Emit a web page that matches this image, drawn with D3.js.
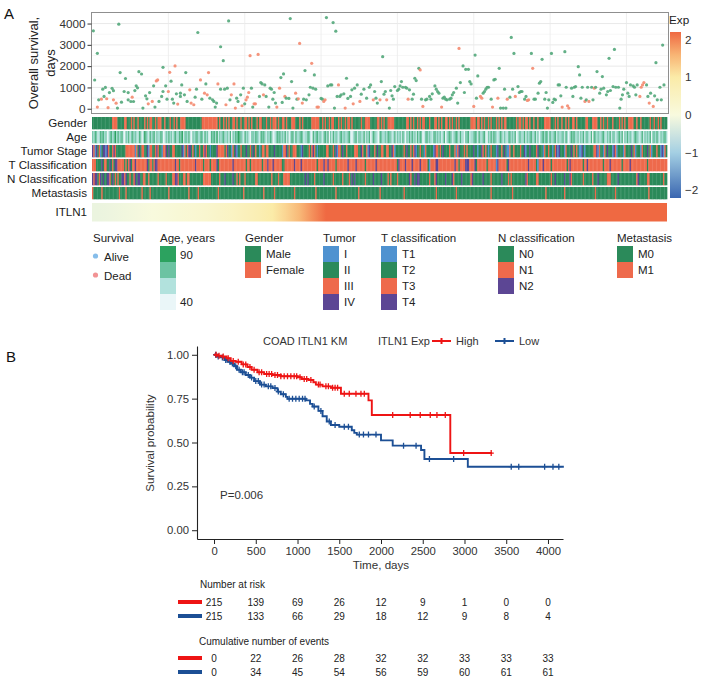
<!DOCTYPE html>
<html><head><meta charset="utf-8">
<script src="https://cdn.jsdelivr.net/npm/d3@7/dist/d3.min.js"></script>
<style>
html,body{margin:0;padding:0;background:#fff;}
svg text{font-family:"Liberation Sans",Arial,Helvetica,sans-serif;}
</style></head><body>
<svg id="chart" width="706" height="681"></svg>
<script>
// ================= DATA =================
// Panel A scatter: patient rank (sorted by ITLN1), overall survival days, status (A alive / D dead)
const osRank = [1,2,4,4,5,7,8,9,10,11,12,13,15,16,16,18,19,20,21,22,24,25,27,27,29,30,31,32,33,34,35,37,38,40,41,42,43,45,46,47,
48,49,50,52,53,53,55,56,57,58,59,60,61,62,63,64,66,66,67,69,70,71,73,74,76,77,78,79,81,82,84,85,86,87,88,90,91,92,93,94,
96,96,98,99,100,101,102,103,104,106,107,108,109,111,112,113,114,115,116,117,118,119,120,121,122,124,125,126,127,128,
129,130,132,133,134,135,136,137,138,140,141,142,143,144,145,147,148,149,150,152,153,154,155,157,158,159,160,162,163,164,
165,166,167,168,169,171,172,173,174,175,176,178,179,180,181,182,183,184,185,186,188,189,190,191,193,194,195,196,198,200,
201,203,205,207,208,210,211,212,213,215,216,217,218,219,220,222,223,224,225,226,228,229,230,231,232,234,235,236,237,239,
240,241,242,244,245,246,247,249,250,252,253,254,256,257,258,259,261,262,263,264,265,267,268,269,270,272,273,274,275,277,
278,279,281,282,283,285,286,287,288,290,291,292,293,294,295,296,298,299,300,301,303,304,305,307,308,309,310,312,313,314,
315,316,318,319,320,321,323,324,325,326,328,329,330,331,333,334,335,336,338,339,340,341,343,344,345,346,348,349,350,351,
353,354,355,356,358,359,360,361,363,364,365,366,368,369,370,371,373,374,375,376,377,379,380,381,382,384,385,386,387,389,
390,391,393,394,395,396,397,399,400,401,402,404,405,406,407,409,410,411,412,414,415,416,417,419,420,421,422,424,425,426,427];
const osDays = [3660,1350,80,2600,420,450,920,580,1000,470,50,760,960,420,850,260,30,3970,1700,310,
810,1420,760,420,340,545,340,855,1075,980,1740,1630,30,607,467,233,760,342,1075,78,
1307,1354,342,576,810,1945,1075,451,810,1712,1292,451,265,2008,700,218,731,576,1120,653,
1697,342,887,265,187,545,918,3580,1354,451,731,1167,653,1697,498,420,342,78,265,1167,
918,2910,2257,918,187,965,4124,420,653,1167,30,498,342,653,140,965,233,420,545,763,
2490,965,78,233,233,2552,576,1230,1167,653,1120,576,78,965,918,451,763,265,78,965,
1463,296,1634,576,498,482,4233,1276,31,731,451,467,3066,265,451,1790,420,653,1010,2132,
965,1588,918,78,78,482,451,342,420,4280,1073,1120,1120,4047,31,3642,576,1120,576,653,
700,31,1431,482,576,887,233,965,1120,342,
685,918,498,1010,1120,420,810,498,265,420,1276,2443,685,810,420,31,856,607,451,1042,
856,918,1073,1276,1010,1010,965,451,887,451,685,1431,1323,1899,1821,451,109,420,451,576,
451,700,1073,918,810,731,78,498,545,451,420,451,498,653,763,965,265,2833,1230,2008,
763,1852,1852,1276,1167,109,2521,498,1541,576,498,731,810,918,1010,1010,451,78,1354,1385,
498,1899,31,31,918,31,451,545,3346,918,2599,576,1042,763,810,810,451,576,389,420,
2599,1899,451,451,731,1198,1276,2319,451,763,31,420,2599,296,451,420,1120,1120,607,78,
2677,1010,140,31,965,576,1010,1042,1977,1588,498,1010,342,420,1010,342,1010,420,965,1010,
1743,731,918,1510,965,653,810,2366,856,1042,2786,1010,1010,31,451,653,918,1230,731,576,
1120,1073,1010,653,1120,576,1010,1120,1230,1120,576,265,731,109,607,2163,420,1010,420,2988,1120];
const osStatus = ("AADAADAAAD DAADADAAAA AAAAADAAAA AAAAADADAA DDAAAAAADD AAADADAAAA AADDDAAADA DADDAAAAAD AAAADAAADD " +
  "DAAADAADDD DAADDDAAAD AAAAAAAADD AAADAAAAAD ADDDAAAAAD AAADDAADDA AAAAAAADAA ADAAAADAAD " +
  "AAAAADAAAD AAAADAAAAA AAAAAAADAA AAAADADAAA AAAAAADAAA AAAAAAADAA AAAAADAAAD DAAAAAADAA DAAAAADAAA " +
  "ADAAAAAADD ADAAAAAAAA AAAAAAAAAD AADDAAAAAA AADAADAADA AAAAAAAAAA AAAAAAAAAA AAAAADDDDA ADADAAAAAA A").split(" ").join("");
const dayTicks = [0,1000,2000,3000,4000];
const dayMinor = [500,1500,2500,3500];
const rankGrid = [57,114,171,228,285,342,399];
const nPatients = 430;

// Clinical annotation tracks (one character per patient, sorted by ITLN1)
const genderSeq = ("MMMMMMMMMM MMMMMFFFFM MMMMFFMMMF MFMMFMMMMF MFMFFMMFMF FFMMFMMMFM MFMFMMFFFF MMMMMMMMMM MMFFFFFFFF FFFFMFMMFM " +
  "FMFMMFFMFM MFMMFFMFMF MMMFMFFMMM FMMFMFFFMF MMFFMFMMMF FFMMMFMFMM MMMMFFFFFF MMFMFMMFMF FMMMFMFMMF MFFMFMMMMM " +
  "MFMMFFFFMM MMMFFMFMFM MFFFFFMMMM MMMMMFFMFM FMMFMFMFFM MMFMMMFFMF MFMMFFMFMF MMFMFMMMMM MMMFFFFMFF MFMFMMFMFM " +
  "MMFMFMFMFF MMMMMMMFMF FMFMFFMFMM FMMFMMMMFF FFFMMMFMFM MFMMFMFMMF FMFMMMMMMF FMMMFFFFMM FMFMMFMMMF MMMMFMFMFM " +
  "MFFFFMMFMM FMMMMMMFMM FMMFMFMMMM").split(" ").join("");
const ageDecade = ("7687568786 7457867968 6785476857 8676587469 7658678576 6874576867 5786687957 7685476786 6875867458 7869576786 " +
  "6758476879 8765867547 7687658786 5768745687 8676857468 7586678756 6875486786 7657868475 8676578676 6785467857 " +
  "7668576846 8765487667 6877568576 7586476868 6758687457 8676578676 7568467875 6787586647 7856678758 6678547686 " +
  "8765687576 5786768457 7668576786 6857467868 7586678576 6775864687 8667576857 7658487676 6786576857 7567868476 " +
  "8676578765 6857676847 7686576786").split(" ").join("");
const stageSeq = ("4314231244 1432234322 2222233333 3313242332 2413322343 2213342422 3322222413 2344232122 3223432212 2224333332 " +
  "3422132412 2322242232 4232212332 3322224222 2213342322 3332221422 2232343212 2222233222 3241332422 3222223332 " +
  "2432231422 2324223322 3322431222 2223242232 3412232213 2222214332 3242222322 2313422232 3222242212 2432321232 " +
  "2214223242 1132232222 3224122422 2234222132 2322123414 2221322242 3232114212 2222233413 2213242221 4312222132 " +
  "2224231222 1322242312 2232214132").split(" ").join("");
const tSeq = ("3332222423 3224232443 3333232342 3343333333 3423323443 3333333333 3343323333 3333333433 3332333323 3334233333 " +
  "3333343333 3333323323 3333333233 3433343333 3322333333 3433334333 3333333323 3334334333 3323333333 3433333433 " +
  "3333233333 3343333333 3333333324 3333433334 3333343333 3213333443 3333333333 3433233334 4433334233 3333323333 " +
  "3314333333 2433333333 3333334333 3321333433 3332333333 3333323433 3333333233 4333333333 3323333433 3333332333 " +
  "3343333333 3333323333 3333333333").split(" ").join("");
const nSeq = ("2122012020 0221020101 0022120010 0120220011 0010000001 0000010000 1122100011 0110000000 0001111110 0000010002 " +
  "0000020010 1000100000 0011000000 0000100001 0001111100 0000000002 0200001000 0002000000 1000000100 0010202000 " +
  "0000100000 2000002000 0101000010 0000000210 0202200000 0010001200 0000200002 1000002000 0001200000 0020000010 " +
  "0000002000 0101000000 0000210000 0011000000 0001002000 0002000210 0000000100 0000100020 0000011100 0002000000 " +
  "0000000120 0000011000 0000000100").split(" ").join("");
const mSeq = ("1000000100 0000000000 1000010000 0000000100 0001000000 0000000100 0000000000 0010000001 0000000000 0000100000 " +
  "0000000000 0001000000 0000000010 0000001000 0000000000 0100000000 0000000100 0000000000 0010000000 0000000001 " +
  "0000000000 0000010000 0000000000 0001000000 0000000000 0000000100 0000000000 0010000000 0000000000 0000000010 " +
  "0000000000 0000100000 0000000000 0000000001 0000000000 0001000000 0000000000 0000001000 0000000000 0100000000 " +
  "0000000000 0000001000 0000000000").split(" ").join("");
// ITLN1 expression (sorted), read every 10 patients
const itln1Exp = [-0.15,-0.12,-0.08,-0.04,0.02,0.08,0.14,0.2,0.28,0.38,0.5,0.64,0.8,1.0,1.25,1.55,1.9,2.25,
  2.3,2.35,2.4,2.45,2.5,2.55,2.6,2.7,2.75,2.8,2.9,3.0,3.1,3.2,3.3,3.4,3.5,3.6,3.8,3.9,4.1,4.3,4.6,5.0,5.6];
const expTicks = [-2,-1,0,1,2];

// Panel B Kaplan-Meier
const highT = [0,40,90,150,200,260,330,400,450,520,600,700,800,1000,1050,1130,1190,1220,1300,1400,1520,1850,1890,2830];
const highS = [1,0.995,0.99,0.98,0.965,0.96,0.945,0.93,0.915,0.9,0.89,0.885,0.878,0.872,0.862,0.856,0.843,0.83,0.82,0.812,0.778,0.74,0.657,0.44];
const highEnd = 3330;
const lowT = [0,30,80,130,160,200,240,275,320,380,430,480,550,620,700,760,800,860,880,1100,1150,1180,1250,1300,1350,1400,1500,1650,1680,1710,2000,2140,2480,2520,3040];
const lowS = [1,0.99,0.985,0.97,0.96,0.95,0.935,0.915,0.9,0.885,0.87,0.85,0.83,0.82,0.81,0.79,0.775,0.76,0.749,0.74,0.72,0.705,0.68,0.65,0.62,0.6,0.59,0.57,0.555,0.545,0.512,0.482,0.457,0.406,0.362];
const lowEnd = 4190;
const highCens = [25,60,110,170,230,290,350,380,430,480,540,570,630,660,690,730,760,800,840,880,920,960,990,1030,1080,1110,1160,1250,1270,1340,1370,1420,1450,1480,1560,1620,1700,1760,1800,2140,2350,2470,2590,2670,2770,2990,3320];
const lowCens = [20,50,100,140,190,220,260,300,340,360,410,450,500,530,570,600,650,680,730,770,830,900,940,980,1020,1060,1090,1200,1280,1380,1450,1560,1610,1740,1790,1850,1940,2270,2420,2580,2870,3560,3650,3960,4060,4130];
const timeTicks = [0,500,1000,1500,2000,2500,3000,3500,4000];
const probTicks = [0,0.25,0.5,0.75,1];
const riskHigh = [215,139,69,26,12,9,1,0,0];
const riskLow  = [215,133,66,29,18,12,9,8,4];
const eventsHigh = [0,22,26,28,32,32,33,33,33];
const eventsLow  = [0,34,45,54,56,59,60,61,61];
const pValue = "P=0.006";

// ================= DRAW =================
const svg = d3.select("#chart");
const COL = {green:"#2b8a5a", orange:"#ee6a4c", blue:"#4f92d0", purple:"#5c4694"};
const TXT = "#333";

// ---- Panel labels
svg.append("text").attr("x",4).attr("y",19).attr("font-size",15).attr("fill","#111").text("A");
svg.append("text").attr("x",6).attr("y",362).attr("font-size",15).attr("fill","#111").text("B");

// ---- Scatter panel
const xR = d3.scaleLinear().domain([0,nPatients]).range([92,668]);
const yD = d3.scaleLinear().domain([-200,4495]).range([113,13]);
const gA = svg.append("g");
gA.selectAll("line.hmin").data(dayMinor).join("line").attr("class","hmin")
  .attr("x1",92).attr("x2",668).attr("y1",d=>yD(d)).attr("y2",d=>yD(d))
  .attr("stroke","#f2f2f2").attr("stroke-width",0.6);
gA.selectAll("line.hmaj").data(dayTicks).join("line").attr("class","hmaj")
  .attr("x1",92).attr("x2",668).attr("y1",d=>yD(d)).attr("y2",d=>yD(d))
  .attr("stroke","#e6e6e6").attr("stroke-width",0.9);
gA.selectAll("line.vg").data(rankGrid).join("line").attr("class","vg")
  .attr("y1",13).attr("y2",113).attr("x1",d=>xR(d)).attr("x2",d=>xR(d))
  .attr("stroke","#ebebeb").attr("stroke-width",0.8);
gA.selectAll("circle.pt").data(d3.range(osRank.length)).join("circle").attr("class","pt")
  .attr("cx",i=>xR(osRank[i])).attr("cy",i=>yD(osDays[i])).attr("r",1.6)
  .attr("fill",i=>osStatus[i]==="D" ? "#f4896f" : "#52a77a").attr("fill-opacity",0.9);
gA.append("rect").attr("x",91.5).attr("y",12.5).attr("width",577).attr("height",101)
  .attr("fill","none").attr("stroke","#8f8f8f").attr("stroke-width",1);
const ayA = gA.append("g").attr("transform","translate(91.5,0)")
  .call(d3.axisLeft(yD).tickValues(dayTicks).tickFormat(d3.format("d")).tickSize(4).tickPadding(2));
ayA.select(".domain").remove();
ayA.selectAll(".tick line").attr("stroke","#333");
ayA.selectAll(".tick text").attr("font-size",11.7).attr("fill",TXT).attr("font-family",null);
gA.append("text").attr("transform","translate(37.5,63) rotate(-90)").attr("text-anchor","middle")
  .attr("font-size",13).attr("fill","#222").text("Overall survival,");
gA.append("text").attr("transform","translate(54.5,63) rotate(-90)").attr("text-anchor","middle")
  .attr("font-size",13).attr("fill","#222").text("days");

// ---- Exp colour scale
const expColor = d3.scaleLinear().domain([-2.2,-1,0,1,1.6,2.2])
  .range(["#3a66b0","#a4cfe3","#f8fade","#fbeba8","#f8b474","#ef6942"]).clamp(true);
const yE = d3.scaleLinear().domain([-2.2,2.2]).range([198,32]);
const defs = svg.append("defs");
const gradE = defs.append("linearGradient").attr("id","expGrad")
  .attr("gradientUnits","userSpaceOnUse").attr("x1",0).attr("x2",0).attr("y1",yE(-2.2)).attr("y2",yE(2.2));
d3.range(-2.2,2.21,0.2).forEach(v=>{
  gradE.append("stop").attr("offset",(v+2.2)/4.4).attr("stop-color",expColor(v));
});
svg.append("rect").attr("x",670).attr("y",yE(2.2)).attr("width",11).attr("height",yE(-2.2)-yE(2.2))
  .attr("fill","url(#expGrad)");
svg.append("text").attr("x",669).attr("y",24).attr("font-size",11.7).attr("fill","#222").text("Exp");
svg.selectAll("text.expt").data(expTicks).join("text").attr("class","expt")
  .attr("x",685).attr("y",d=>yE(d)+4).attr("font-size",11.7).attr("fill",TXT)
  .text(d=>d<0 ? "\u2212"+Math.abs(d) : d);

// ---- Annotation heatmap
const xH = d3.scaleLinear().domain([0,nPatients]).range([92,667]);
const ageColor = d3.scaleLinear().domain([40,57,73,90]).range(["#eaf6f8","#b2e2dd","#6cc3a2","#2ca25f"]);
const stageColor = {"1":COL.blue,"2":COL.green,"3":COL.orange,"4":COL.purple};
const nColor = {"0":COL.green,"1":COL.orange,"2":COL.purple};
const mColor = {"0":COL.green,"1":COL.orange};
const gColor = {"M":COL.green,"F":COL.orange};
const tracks = [
  {label:"Gender", seq:genderSeq, color:c=>gColor[c], y:117, h:12.3},
  {label:"Age", seq:ageDecade, color:c=>ageColor(+c*10), y:131, h:12.3},
  {label:"Tumor Stage", seq:stageSeq, color:c=>stageColor[c], y:145, h:12.3},
  {label:"T Classification", seq:tSeq, color:c=>stageColor[c], y:159, h:12.3},
  {label:"N Classification", seq:nSeq, color:c=>nColor[c], y:173, h:12.3},
  {label:"Metastasis", seq:mSeq, color:c=>mColor[c], y:187, h:12.3}
];
tracks.forEach(t=>{
  const g = svg.append("g");
  g.selectAll("rect").data(t.seq.split("")).join("rect")
    .attr("x",(d,i)=>xH(i)).attr("y",t.y)
    .attr("width",(d,i)=>xH(i+1)-xH(i)+0.35).attr("height",t.h)
    .attr("fill",d=>t.color(d));
  svg.append("text").attr("x",87).attr("y",t.y+t.h/2+4.2).attr("text-anchor","end")
    .attr("font-size",11.6).attr("fill","#1a1a1a").text(t.label);
});
// ITLN1 track as a gradient built from the sorted expression readings
const gradI = defs.append("linearGradient").attr("id","itlnGrad")
  .attr("gradientUnits","userSpaceOnUse").attr("x1",xH(0)).attr("x2",xH(nPatients)).attr("y1",0).attr("y2",0);
itln1Exp.forEach((v,i)=>{
  gradI.append("stop").attr("offset",(xH(i*10+5)-xH(0))/(xH(nPatients)-xH(0))).attr("stop-color",expColor(v));
});
svg.append("rect").attr("x",xH(0)).attr("y",203).attr("width",xH(nPatients)-xH(0)).attr("height",18.5)
  .attr("fill","url(#itlnGrad)");
svg.append("text").attr("x",87).attr("y",216).attr("text-anchor","end")
  .attr("font-size",11.6).attr("fill","#1a1a1a").text("ITLN1");

// ---- Legends
const LFS = 11.5;
function legendTitle(x,t){ svg.append("text").attr("x",x).attr("y",242).attr("font-size",LFS).attr("fill","#222").text(t); }
function boxLegend(x,labels,colors){
  labels.forEach((l,i)=>{
    svg.append("rect").attr("x",x).attr("y",246+i*16).attr("width",16).attr("height",16).attr("fill",colors[i]);
    svg.append("text").attr("x",x+21).attr("y",246+i*16+12).attr("font-size",LFS).attr("fill","#222").text(l);
  });
}
legendTitle(93,"Survival");
[["Alive","#86bdea"],["Dead","#f29394"]].forEach((d,i)=>{
  svg.append("circle").attr("cx",95.5).attr("cy",256+i*19).attr("r",2.6).attr("fill",d[1]);
  svg.append("text").attr("x",104).attr("y",260.5+i*19).attr("font-size",LFS).attr("fill","#222").text(d[0]);
});
legendTitle(160,"Age, years");
const ageLegendVals = [90,73,57,40];
ageLegendVals.forEach((v,i)=>{
  svg.append("rect").attr("x",160).attr("y",246+i*16).attr("width",16).attr("height",16).attr("fill",ageColor(v));
});
svg.append("text").attr("x",180).attr("y",259).attr("font-size",LFS).attr("fill","#222").text("90");
svg.append("text").attr("x",180).attr("y",306).attr("font-size",LFS).attr("fill","#222").text("40");
legendTitle(245,"Gender"); boxLegend(245,["Male","Female"],[COL.green,COL.orange]);
legendTitle(323,"Tumor"); boxLegend(323,["I","II","III","IV"],[COL.blue,COL.green,COL.orange,COL.purple]);
legendTitle(381,"T classification"); boxLegend(381,["T1","T2","T3","T4"],[COL.blue,COL.green,COL.orange,COL.purple]);
legendTitle(498,"N classification"); boxLegend(498,["N0","N1","N2"],[COL.green,COL.orange,COL.purple]);
legendTitle(617,"Metastasis"); boxLegend(617,["M0","M1"],[COL.green,COL.orange]);

// ---- Panel B: KM
const xT = d3.scaleLinear().domain([-204,4180]).range([197,563]);
const yS = d3.scaleLinear().domain([-0.05,1.05]).range([539,346]);
const KMR = "#ee1414", KMB = "#1c4f95";
const gB = svg.append("g");
const axL = gB.append("g").attr("transform","translate(197,0)")
  .call(d3.axisLeft(yS).tickValues(probTicks).tickFormat(d3.format(".2f")).tickSize(5).tickSizeOuter(0).tickPadding(3));
const axB = gB.append("g").attr("transform","translate(0,539)")
  .call(d3.axisBottom(xT).tickValues(timeTicks).tickFormat(d3.format("d")).tickSize(5).tickSizeOuter(0).tickPadding(3));
[axL,axB].forEach(a=>{
  a.select(".domain").attr("stroke","#222").attr("stroke-width",1.1);
  a.selectAll(".tick line").attr("stroke","#222");
  a.selectAll(".tick text").attr("font-size",11.3).attr("fill",TXT).attr("font-family",null);
});
gB.append("text").attr("transform","translate(154,443) rotate(-90)").attr("text-anchor","middle")
  .attr("font-size",11.6).attr("fill",TXT).text("Survival probability");
gB.append("text").attr("x",381).attr("y",569).attr("text-anchor","middle")
  .attr("font-size",11.6).attr("fill",TXT).text("Time, days");
gB.append("text").attr("x",220).attr("y",499).attr("font-size",11.5).attr("fill",TXT).text(pValue);

function drawKM(T,S,end,cens,color){
  const pts = T.map((t,i)=>[t,S[i]]).concat([[end,S[S.length-1]]]);
  gB.append("path").datum(pts)
    .attr("d",d3.line().x(d=>xT(d[0])).y(d=>yS(d[1])).curve(d3.curveStepAfter))
    .attr("fill","none").attr("stroke",color).attr("stroke-width",1.9);
  const bis = d3.bisector(d=>d).right;
  const path = cens.map(t=>{
    const s = S[Math.max(0,bis(T,t)-1)];
    const x = xT(t), y = yS(s);
    return `M${x-2.6},${y}h5.2M${x},${y-3}v6`;
  }).join("");
  gB.append("path").attr("d",path).attr("stroke",color).attr("stroke-width",1.3).attr("fill","none");
}
drawKM(lowT,lowS,lowEnd,lowCens,KMB);
drawKM(highT,highS,highEnd,highCens,KMR);

// KM title / legend
gB.append("text").attr("x",263).attr("y",345).attr("font-size",11).attr("fill",TXT).text("COAD ITLN1 KM");
gB.append("text").attr("x",378).attr("y",345).attr("font-size",11).attr("fill",TXT).text("ITLN1 Exp");
[{x:432,c:KMR,l:"High"},{x:495,c:KMB,l:"Low"}].forEach(k=>{
  gB.append("path").attr("d",`M${k.x},341h19M${k.x+9.5},338v6`).attr("stroke",k.c).attr("stroke-width",2).attr("fill","none");
  gB.append("text").attr("x",k.x+24).attr("y",345).attr("font-size",11).attr("fill",TXT).text(k.l);
});

// Risk table
const tFS = 10;
gB.append("text").attr("x",200).attr("y",588).attr("font-size",tFS).attr("fill","#222").text("Number at risk");
gB.append("text").attr("x",199).attr("y",645).attr("font-size",tFS).attr("fill","#222").text("Cumulative number of events");
function tableRow(vals,y,color){
  gB.append("rect").attr("x",178).attr("y",y-2).attr("width",24).attr("height",4).attr("fill",color);
  gB.selectAll(null).data(vals).join("text").attr("x",(d,i)=>xT(timeTicks[i])).attr("y",y+3.6)
    .attr("text-anchor","middle").attr("font-size",tFS).attr("fill","#222").text(d=>d);
}
tableRow(riskHigh,602,KMR);
tableRow(riskLow,616,KMB);
tableRow(eventsHigh,658,KMR);
tableRow(eventsLow,672,KMB);
</script>
</body></html>
